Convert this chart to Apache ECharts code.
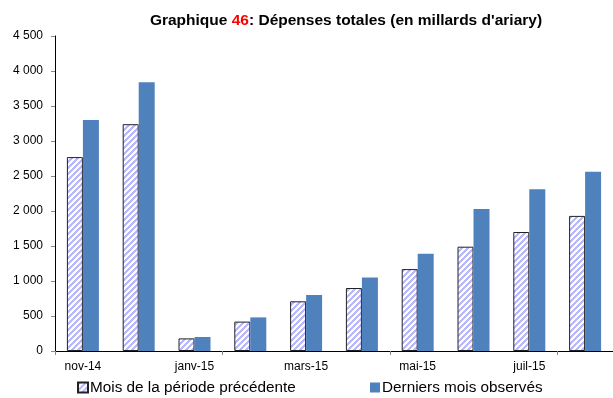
<!DOCTYPE html>
<html>
<head>
<meta charset="utf-8">
<script src="https://cdn.jsdelivr.net/npm/echarts@6/dist/echarts.min.js"></script>
<style>
  html, body { margin: 0; padding: 0; background: #fff; }
  #chart { width: 613px; height: 398px; }
</style>
</head>
<body>
<div id="chart"></div>
<script>
// Monthly total expenditure, billions of ariary
const months = ['nov-14', 'déc-14', 'janv-15', 'févr-15', 'mars-15', 'avr-15', 'mai-15', 'juin-15', 'juil-15', 'août-15'];
const previousPeriod = [2770, 3240, 180, 420, 710, 900, 1170, 1490, 1700, 1930];
const lastObserved = [3300, 3840, 200, 480, 800, 1050, 1390, 2030, 2310, 2560];
const yTicks = [0, 500, 1000, 1500, 2000, 2500, 3000, 3500, 4000, 4500];

const namePrev = 'Mois de la période précédente';
const nameLast = 'Derniers mois observés';

// diagonal "/" hatch tile for the previous-period bars
function hatchTile() {
  const size = 6;
  const c = document.createElement('canvas');
  c.width = size; c.height = size;
  const ctx = c.getContext('2d');
  const img = ctx.createImageData(size, size);
  for (let y = 0; y < size; y++) {
    for (let x = 0; x < size; x++) {
      const i = (y * size + x) * 4;
      const on = ((x + y) % size) < 3;
      img.data[i] = on ? 0xb8 : 255;
      img.data[i + 1] = on ? 0xb8 : 255;
      img.data[i + 2] = on ? 0xfa : 255;
      img.data[i + 3] = 255;
    }
  }
  ctx.putImageData(img, 0, 0);
  return c;
}

const fmt = v => String(v).replace(/\B(?=(\d{3})+(?!\d))/g, ' ');
const font = '"Liberation Sans", Arial, sans-serif';

const chart = echarts.init(document.getElementById('chart'), null, { renderer: 'canvas' });
chart.setOption({
  animation: false,
  backgroundColor: '#fff',
  textStyle: { fontFamily: font },
  title: {
    text: 'Graphique {r|46}: Dépenses totales (en millards d\'ariary)',
    left: 346,
    textAlign: 'center',
    top: 13,
    padding: 0,
    textStyle: {
      fontFamily: font, fontSize: 15.5, fontWeight: 'bold', color: '#000',
      rich: { r: { fontFamily: font, fontSize: 15.5, fontWeight: 'bold', color: '#ff0000' } }
    }
  },
  legend: [
    {
      data: [namePrev], left: 77, top: 380, padding: 0, itemWidth: 10, itemHeight: 10,
      icon: 'rect', selectedMode: false,
      textStyle: { fontFamily: font, fontSize: 15.3, color: '#000', padding: [0, 0, 0, -3] }
    },
    {
      data: [nameLast], left: 370, top: 380, padding: 0, itemWidth: 10, itemHeight: 10,
      icon: 'rect', selectedMode: false,
      textStyle: { fontFamily: font, fontSize: 15.3, color: '#000', padding: [0, 0, 0, -3] }
    }
  ],
  grid: { left: 55, top: 36, width: 560, height: 315, containLabel: false },
  xAxis: {
    type: 'category',
    data: months,
    boundaryGap: true,
    axisLine: { lineStyle: { color: '#000', width: 1 } },
    axisTick: { show: true, interval: 2, length: 4, lineStyle: { color: '#888' } },
    axisLabel: { interval: 1, margin: 10, fontSize: 12, color: '#000', fontFamily: font }
  },
  yAxis: {
    type: 'value',
    min: yTicks[0],
    max: yTicks[yTicks.length - 1],
    interval: yTicks[1] - yTicks[0],
    splitLine: { show: false },
    axisLine: { show: true, lineStyle: { color: '#000', width: 1 } },
    axisTick: { show: true, length: 4, lineStyle: { color: '#888' } },
    axisLabel: { margin: 12, fontSize: 12, color: '#000', fontFamily: font, formatter: fmt }
  },
  series: [
    {
      name: namePrev,
      type: 'bar',
      data: previousPeriod,
      barWidth: 16,
      barGap: '0%',
      itemStyle: {
        color: { image: hatchTile(), repeat: 'repeat' },
        borderColor: '#222',
        borderWidth: 1
      }
    },
    {
      name: nameLast,
      type: 'bar',
      data: lastObserved,
      barWidth: 16,
      barGap: '0%',
      itemStyle: { color: '#4f81bd' }
    }
  ]
});
</script>
</body>
</html>
